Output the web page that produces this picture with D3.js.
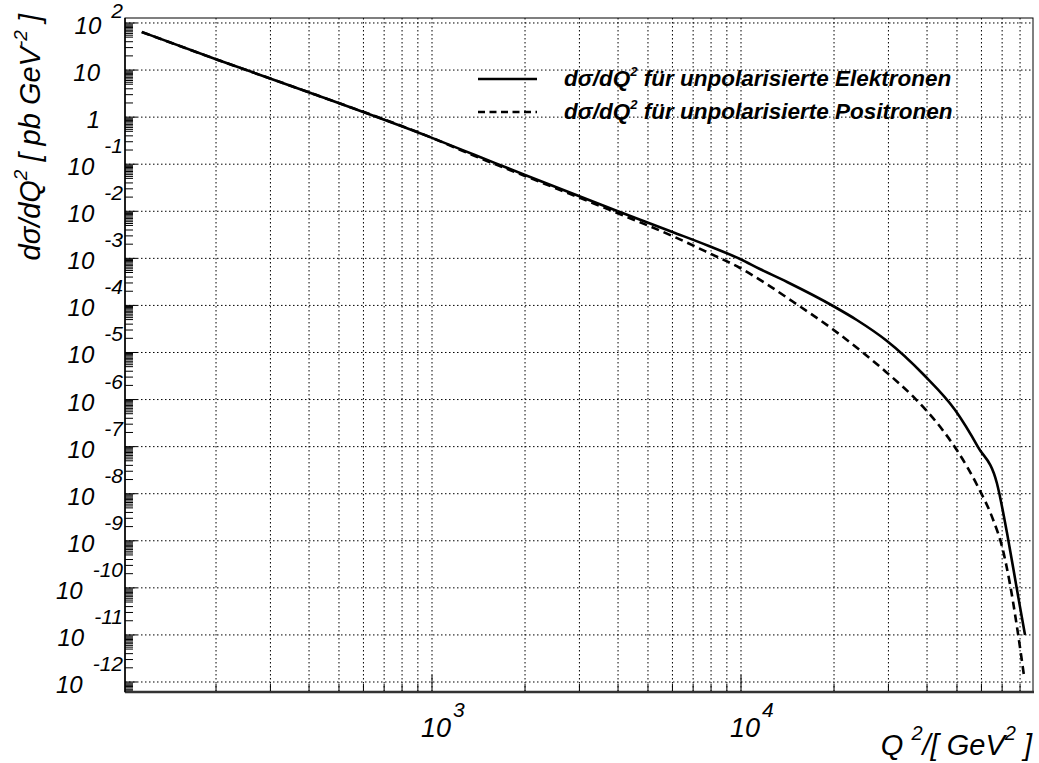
<!DOCTYPE html>
<html>
<head>
<meta charset="utf-8">
<script src="https://cdn.jsdelivr.net/npm/d3@7"></script>
<style>
  body { margin: 0; background: #fff; }
  svg { font-family: "Liberation Sans", Arial, sans-serif; }
  .grid line { stroke: #000; stroke-width: 1; stroke-dasharray: 1.5,2.5; }
  .tick-mark { stroke: #000; stroke-width: 1; }
</style>
</head>
<body>
<div id="chart"></div>
<script>
// Q^2 values in GeV^2 and dsigma/dQ^2 in pb GeV^-2
const q2Elek = [115, 203, 405, 1000, 1377, 2000, 3975, 6000, 7870, 9930, 11510, 14100, 19860,
  23700, 29400, 39100, 49300, 58500, 67300, 72600, 75900, 80000, 83000]
const sigElek = [64.4, 16.4, 3.26, 0.362, 0.157, 0.059, 0.0101, 3.63e-3, 1.83e-3, 9.68e-4,
  5.94e-4, 3.14e-4, 9.72e-5, 4.9e-5, 1.84e-5, 3.32e-6, 6.0e-7, 9.8e-8, 1.69e-8, 1.46e-9,
  2.8e-10, 3.9e-11, 1.0e-11]

const q2Posi = [115, 203, 405, 1000, 1377, 2000, 3975, 6000, 7870, 9930, 12100, 14700, 19860,
  24800, 29400, 36100, 45100, 50000, 58500, 65500, 70000, 74300, 78200, 82400]
const sigPosi = [64.4, 16.4, 3.26, 0.362, 0.149, 0.0562, 9.19e-3, 2.98e-3, 1.30e-3, 6.24e-4,
  2.85e-4, 1.21e-4, 3.08e-5, 9.95e-6, 3.91e-6, 1.15e-6, 2.18e-7, 8.36e-8, 1.39e-8, 2.76e-9,
  7.4e-10, 1.15e-10, 1.47e-11, 1.34e-12]

const yExponents = d3.range(-12, 3)
const xExponents = [3, 4]
const legendLabels = ['für unpolarisierte Elektronen', 'für unpolarisierte Positronen']

const dms = {
  width: 1039,
  height: 763,
  left: 125,
  right: 1033,
  top: 18,
  bottom: 692
}

const svg = d3.select('#chart').append('svg')
  .attr('width', dms.width)
  .attr('height', dms.height)

svg.append('rect')
  .attr('width', dms.width)
  .attr('height', dms.height)
  .attr('fill', '#fff')

const xScale = d3.scaleLog()
  .domain([101.5, 88100])
  .range([dms.left, dms.right])

const yScale = d3.scaleLog()
  .domain([6.13e-13, 127.6])
  .range([dms.bottom, dms.top])

// grid
const xGridVals = []
for (let d = 2; d <= 4; d++) {
  for (let k = 1; k <= 9; k++) {
    const v = k * Math.pow(10, d)
    if (v > xScale.domain()[0] && v < xScale.domain()[1]) xGridVals.push({ v, major: k === 1 })
  }
}
const yDecades = yExponents.map(e => Math.pow(10, e))

const grid = svg.append('g').attr('class', 'grid')
grid.selectAll('.gx')
  .data(xGridVals)
  .join('line')
  .attr('x1', d => xScale(d.v)).attr('x2', d => xScale(d.v))
  .attr('y1', dms.top).attr('y2', dms.bottom)
grid.selectAll('.gy')
  .data(yDecades)
  .join('line')
  .attr('class', 'gy')
  .attr('x1', dms.left).attr('x2', dms.right)
  .attr('y1', d => yScale(d)).attr('y2', d => yScale(d))

// ticks on x axis (pointing up)
const ticks = svg.append('g')
ticks.selectAll('.tx')
  .data(xGridVals)
  .join('line')
  .attr('class', 'tick-mark')
  .attr('x1', d => xScale(d.v)).attr('x2', d => xScale(d.v))
  .attr('y1', dms.bottom).attr('y2', d => dms.bottom - (d.major ? 17 : 8))

// ticks on y axis (pointing right)
const yMinor = []
yExponents.forEach(e => {
  const base = Math.pow(10, e - 1)
  ;[2, 3, 4, 5, 5.5, 6, 6.5, 7, 7.5, 8, 8.5, 9, 9.5].forEach(k => {
    const v = k * base
    if (v > yScale.domain()[0]) yMinor.push(v)
  })
})
ticks.selectAll('.tym')
  .data(yMinor)
  .join('line')
  .attr('class', 'tick-mark')
  .attr('x1', dms.left).attr('x2', dms.left + 8)
  .attr('y1', d => yScale(d)).attr('y2', d => yScale(d))
ticks.selectAll('.tyM')
  .data(yDecades)
  .join('line')
  .attr('class', 'tick-mark')
  .attr('x1', dms.left).attr('x2', dms.left + 12)
  .attr('y1', d => yScale(d)).attr('y2', d => yScale(d))

// frame
svg.append('rect')
  .attr('x', dms.left).attr('y', dms.top)
  .attr('width', dms.right - dms.left).attr('height', dms.bottom - dms.top)
  .attr('fill', 'none').attr('stroke', '#000').attr('stroke-width', 1)
svg.append('line')
  .attr('x1', dms.left).attr('x2', dms.right + 1)
  .attr('y1', dms.bottom).attr('y2', dms.bottom)
  .attr('stroke', '#333').attr('stroke-width', 2.5)
svg.append('line')
  .attr('x1', dms.left).attr('x2', dms.left)
  .attr('y1', dms.top).attr('y2', dms.bottom)
  .attr('stroke', '#000').attr('stroke-width', 1.5)

// curves
const lineGen = d3.line()
  .x(d => xScale(d[0]))
  .y(d => yScale(d[1]))
  .curve(d3.curveMonotoneX)

svg.append('path')
  .attr('d', lineGen(d3.zip(q2Elek, sigElek)))
  .attr('fill', 'none').attr('stroke', '#000').attr('stroke-width', 2.6)

svg.append('path')
  .attr('d', lineGen(d3.zip(q2Posi, sigPosi)))
  .attr('fill', 'none').attr('stroke', '#000').attr('stroke-width', 2.6)
  .attr('stroke-dasharray', '8,5')

// y labels
const yLab = svg.append('g').attr('font-style', 'italic').attr('fill', '#000')
yExponents.forEach(e => {
  const gy = yScale(Math.pow(10, e))
  if (e === 1 || e === 0) {
    yLab.append('text')
      .attr('x', 100).attr('y', gy + 11)
      .attr('text-anchor', 'end').attr('font-size', 24)
      .text(e === 1 ? '10' : '1')
    return
  }
  const ex = yLab.append('text')
    .attr('x', 123).attr('y', gy - (e === 2 ? 5 : 11))
    .attr('text-anchor', 'end').attr('font-size', 21)
    .text(e)
  const w = ex.node().getComputedTextLength()
  yLab.append('text')
    .attr('x', 123 - w - 10).attr('y', gy + 11)
    .attr('text-anchor', 'end').attr('font-size', 24)
    .text('10')
})

// x labels
const xLab = svg.append('g').attr('font-style', 'italic')
xExponents.forEach(e => {
  const gx = xScale(Math.pow(10, e))
  xLab.append('text')
    .attr('x', gx - 11).attr('y', 737)
    .attr('font-size', 27)
    .text('10')
  xLab.append('text')
    .attr('x', gx + 21).attr('y', 717)
    .attr('font-size', 21)
    .text(e)
})

// axis titles
const xTitle = svg.append('text')
  .attr('x', 1032).attr('y', 755)
  .attr('text-anchor', 'end')
  .attr('font-style', 'italic').attr('font-size', 29)
xTitle.append('tspan').text('Q ')
xTitle.append('tspan').attr('font-size', 20).attr('dy', -15).text('2')
xTitle.append('tspan').attr('dy', 15).text('/[ GeV')
xTitle.append('tspan').attr('font-size', 20).attr('dy', -15).text('2')
xTitle.append('tspan').attr('dy', 15).text(' ]')

const yTitle = svg.append('text')
  .attr('transform', 'translate(40,14) rotate(-90)')
  .attr('text-anchor', 'end')
  .attr('font-style', 'italic').attr('font-size', 29)
yTitle.append('tspan').text('dσ/dQ')
yTitle.append('tspan').attr('font-size', 19).attr('dy', -13).text('2')
yTitle.append('tspan').attr('dy', 13).text(' [ pb GeV')
yTitle.append('tspan').attr('font-size', 19).attr('dy', -13).text('-2')
yTitle.append('tspan').attr('dy', 13).text(' ]')

// legend
const legend = svg.append('g')
legendLabels.forEach((lab, i) => {
  const ly = 79 + i * 33
  legend.append('line')
    .attr('x1', 478).attr('x2', 537)
    .attr('y1', ly).attr('y2', ly)
    .attr('stroke', '#000').attr('stroke-width', 2.6)
    .attr('stroke-dasharray', i === 0 ? null : '7,4.5')
  const t = legend.append('text')
    .attr('x', 564).attr('y', ly + 7)
    .attr('font-style', 'italic').attr('font-weight', 'bold').attr('font-size', 22.5)
  t.append('tspan').text('dσ/dQ')
  t.append('tspan').attr('font-size', 13).attr('dy', -10).text('2')
  t.append('tspan').attr('dy', 10).text(' ' + lab)
})
</script>
</body>
</html>
